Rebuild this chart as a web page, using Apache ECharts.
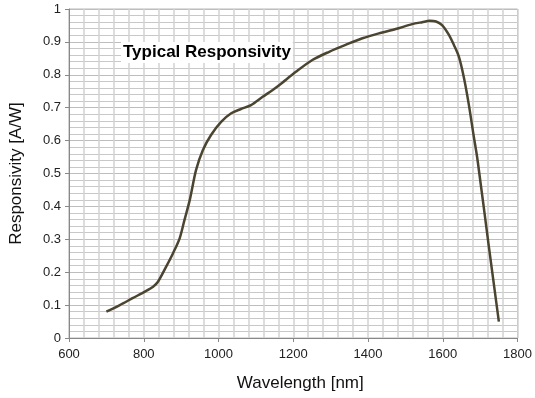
<!DOCTYPE html>
<html><head><meta charset="utf-8">
<script src="https://cdn.jsdelivr.net/npm/echarts@6/dist/echarts.min.js"></script>
<style>html,body{margin:0;padding:0;background:#fff}#c{width:535px;height:398px}</style>
</head><body><div id="c"></div>
<script>
var wavelength = [700, 736, 770, 803, 825, 838, 860, 878, 896, 909, 923, 940, 958, 980, 1007, 1034, 1060, 1087, 1118, 1145, 1163, 1207, 1251, 1296, 1340, 1385, 1429, 1474, 1518, 1545, 1565, 1582, 1598, 1616, 1630, 1643, 1656, 1669, 1683, 1693, 1723, 1750];
var responsivity = [0.080, 0.100, 0.121, 0.141, 0.156, 0.171, 0.217, 0.257, 0.303, 0.359, 0.419, 0.511, 0.571, 0.617, 0.657, 0.683, 0.696, 0.708, 0.733, 0.754, 0.769, 0.809, 0.845, 0.870, 0.891, 0.911, 0.926, 0.939, 0.954, 0.960, 0.964, 0.962, 0.951, 0.922, 0.89, 0.855, 0.794, 0.714, 0.612, 0.541, 0.28, 0.05];
var chartTitle = "Typical Responsivity";
var xName = "Wavelength [nm]";
var yName = "Responsivity [A/W]";

var data = wavelength.map(function(w, i){ return [w, responsivity[i]]; });
var chart = echarts.init(document.getElementById('c'), null, {renderer:'canvas'});
var font = 'Arial, "Liberation Sans", sans-serif';
chart.setOption({
  animation: false,
  backgroundColor: '#fff',
  title: {
    text: chartTitle, left: 121, top: 42,
    backgroundColor: '#fff', padding: [2, 2],
    textStyle: {fontFamily: font, fontSize: 17, fontWeight: 'bold', color: '#000'}
  },
  grid: {left: 69, right: 17, top: 9, bottom: 60, show: true, borderColor: '#b8b8b8', borderWidth: 1},
  xAxis: {
    type: 'value', min: 600, max: 1800, interval: 200,
    name: xName, nameLocation: 'middle', nameGap: 37,
    nameTextStyle: {fontFamily: font, fontSize: 17, color: '#111', padding: [0, 0, 0, 14]},
    axisLine: {lineStyle: {color: '#888', width: 1}},
    axisTick: {show: true, length: 4, lineStyle: {color: '#888'}},
    axisLabel: {fontFamily: font, fontSize: 13, color: '#222', margin: 10,
      formatter: function(v){ return String(v); }},
    splitLine: {show: true, lineStyle: {color: '#d2d2d2', width: 1.5}},
    minorTick: {show: false, splitNumber: 5},
    minorSplitLine: {show: true, lineStyle: {color: '#d2d2d2', width: 1.5}}
  },
  yAxis: {
    type: 'value', min: 0, max: 1, interval: 0.1,
    name: yName, nameLocation: 'middle', nameGap: 44,
    nameTextStyle: {fontFamily: font, fontSize: 17, color: '#111'},
    axisLine: {show: true, lineStyle: {color: '#888', width: 1}},
    axisTick: {show: true, length: 4, lineStyle: {color: '#888'}},
    axisLabel: {fontFamily: font, fontSize: 13, color: '#222', margin: 8,
      formatter: function(v){ return String(v); }},
    splitLine: {show: true, lineStyle: {color: '#bdbdbd', width: 1}},
    minorTick: {show: false, splitNumber: 5},
    minorSplitLine: {show: true, lineStyle: {color: '#c8c8c8', width: 1}}
  },
  series: [{
    type: 'line', data: data, smooth: 0.3, showSymbol: false,
    lineStyle: {color: '#4b4430', width: 2.5}
  }]
});
</script></body></html>
